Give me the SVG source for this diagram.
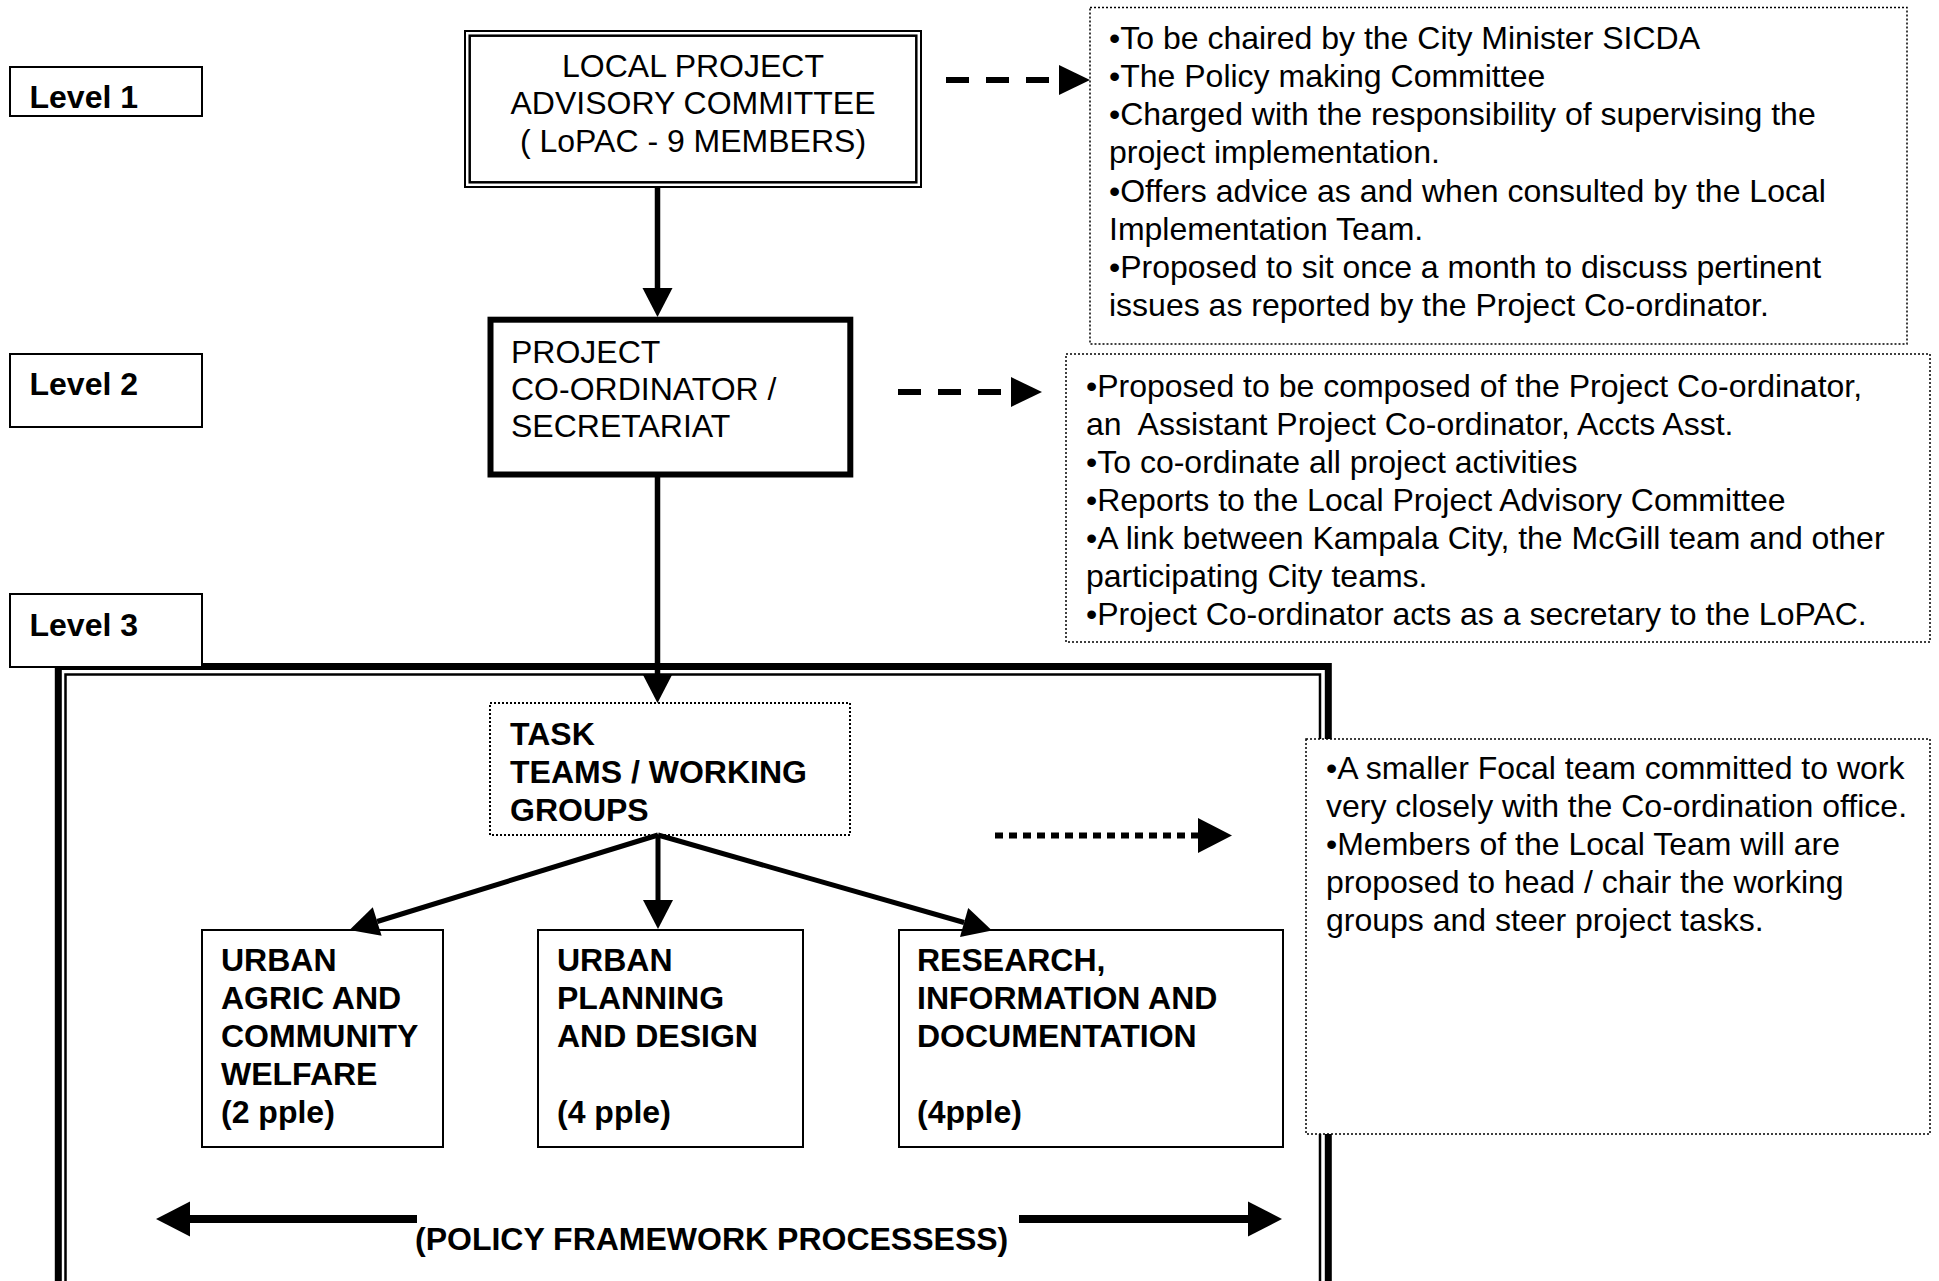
<svg xmlns="http://www.w3.org/2000/svg" width="1939" height="1281" viewBox="0 0 1939 1281">
<style>
text{font-family:"Liberation Sans",Arial,sans-serif;font-size:32px;fill:#000;white-space:pre}
.b{font-weight:bold}
.box{fill:#fff;stroke:#000;stroke-width:2}
.dot{fill:#fff;stroke:#000;stroke-width:1.5;stroke-dasharray:2 2}
.conn{stroke:#000;fill:none}
</style>
<defs>
<marker id="ahS" markerUnits="userSpaceOnUse" markerWidth="40" markerHeight="40" refX="0" refY="15" orient="auto" overflow="visible"><path d="M0,0 L29,15 L0,30 z" fill="#000"/></marker>
<marker id="ahD" markerUnits="userSpaceOnUse" markerWidth="40" markerHeight="40" refX="0" refY="15" orient="auto" overflow="visible"><path d="M0,0 L31,15 L0,30 z" fill="#000"/></marker>
<marker id="ahL" markerUnits="userSpaceOnUse" markerWidth="40" markerHeight="40" refX="0" refY="17.5" orient="auto" overflow="visible"><path d="M0,0 L34,17.5 L0,35 z" fill="#000"/></marker>
</defs>
<rect width="1939" height="1281" fill="#fff"/>

<g id="level3-frame">
<rect x="58.3" y="666.5" width="1270" height="700" fill="none" stroke="#000" stroke-width="7"/>
<rect x="65.5" y="674.5" width="1254.5" height="700" fill="none" stroke="#000" stroke-width="2.5"/>
</g>

<g id="level1"><rect class="box" x="10" y="67" width="192" height="49"/><text class="b" x="29.5" y="108">Level 1</text></g>
<g id="level2"><rect class="box" x="10" y="354" width="192" height="73"/><text class="b" x="29.5" y="395">Level 2</text></g>
<g id="level3"><rect class="box" x="10" y="594" width="192" height="73"/><text class="b" x="29.5" y="636">Level 3</text></g>

<g id="lopac">
<rect x="465" y="31" width="456" height="156" fill="#fff" stroke="#000" stroke-width="2"/>
<rect x="469.7" y="35.7" width="446.6" height="146.6" fill="none" stroke="#000" stroke-width="2.5"/>
<text x="693" y="76.5" text-anchor="middle">LOCAL PROJECT</text>
<text x="693" y="114" text-anchor="middle">ADVISORY COMMITTEE</text>
<text x="693" y="151.5" text-anchor="middle">( LoPAC - 9 MEMBERS)</text>
</g>

<g id="coordinator">
<rect x="490.5" y="319.7" width="359.8" height="154.8" fill="#fff" stroke="#000" stroke-width="6"/>
<text x="511" y="362.5">PROJECT</text>
<text x="511" y="400">CO-ORDINATOR /</text>
<text x="511" y="437">SECRETARIAT</text>
</g>

<g id="task-teams">
<rect x="490" y="703" width="360" height="132" fill="#fff" stroke="#000" stroke-width="2" stroke-dasharray="2 2"/>
<text class="b" x="510" y="745">TASK</text>
<text class="b" x="510" y="783">TEAMS / WORKING</text>
<text class="b" x="510" y="821">GROUPS</text>
</g>

<g id="urban-agric">
<rect class="box" x="202" y="930" width="241" height="217"/>
<text class="b" x="221" y="971">URBAN</text>
<text class="b" x="221" y="1009">AGRIC AND</text>
<text class="b" x="221" y="1047">COMMUNITY</text>
<text class="b" x="221" y="1085">WELFARE</text>
<text class="b" x="221" y="1123">(2 pple)</text>
</g>

<g id="urban-planning">
<rect class="box" x="538" y="930" width="265" height="217"/>
<text class="b" x="557" y="971">URBAN</text>
<text class="b" x="557" y="1009">PLANNING</text>
<text class="b" x="557" y="1047">AND DESIGN</text>
<text class="b" x="557" y="1123">(4 pple)</text>
</g>

<g id="research">
<rect class="box" x="899" y="930" width="384" height="217"/>
<text class="b" x="917" y="971">RESEARCH,</text>
<text class="b" x="917" y="1009">INFORMATION AND</text>
<text class="b" x="917" y="1047">DOCUMENTATION</text>
<text class="b" x="917" y="1123">(4pple)</text>
</g>

<g id="notes-level1">
<rect class="dot" x="1090" y="7.5" width="817" height="336.5"/>
<text x="1109" y="49">•To be chaired by the City Minister SICDA</text>
<text x="1109" y="87">•The Policy making Committee</text>
<text x="1109" y="125">•Charged with the responsibility of supervising the</text>
<text x="1109" y="163">project implementation.</text>
<text x="1109" y="202">•Offers advice as and when consulted by the Local</text>
<text x="1109" y="240">Implementation Team.</text>
<text x="1109" y="278">•Proposed to sit once a month to discuss pertinent</text>
<text x="1109" y="316">issues as reported by the Project Co-ordinator.</text>
</g>

<g id="notes-level2">
<rect class="dot" x="1066" y="354" width="864" height="288"/>
<text x="1086" y="397">•Proposed to be composed of the Project Co-ordinator,</text>
<text x="1086" y="435">an  Assistant Project Co-ordinator, Accts Asst.</text>
<text x="1086" y="473">•To co-ordinate all project activities</text>
<text x="1086" y="511">•Reports to the Local Project Advisory Committee</text>
<text x="1086" y="549">•A link between Kampala City, the McGill team and other</text>
<text x="1086" y="587">participating City teams.</text>
<text x="1086" y="625">•Project Co-ordinator acts as a secretary to the LoPAC.</text>
</g>

<g id="notes-level3">
<rect class="dot" x="1306" y="739" width="624" height="395"/>
<text x="1326" y="779">•A smaller Focal team committed to work</text>
<text x="1326" y="817">very closely with the Co-ordination office.</text>
<text x="1326" y="855">•Members of the Local Team will are</text>
<text x="1326" y="893">proposed to head / chair the working</text>
<text x="1326" y="931">groups and steer project tasks.</text>
</g>

<g id="policy-label">
<text class="b" x="415" y="1250">(POLICY FRAMEWORK PROCESSESS)</text>
</g>

<g id="connectors">
<line class="conn" x1="657.5" y1="188" x2="657.5" y2="288" stroke-width="5.5" marker-end="url(#ahS)"/>
<line class="conn" x1="657.5" y1="477" x2="657.5" y2="674" stroke-width="5.5" marker-end="url(#ahS)"/>
<line class="conn" x1="658" y1="835" x2="377.2" y2="921.5" stroke-width="5" marker-end="url(#ahS)"/>
<line class="conn" x1="658" y1="835" x2="658" y2="900" stroke-width="5" marker-end="url(#ahS)"/>
<line class="conn" x1="658" y1="835" x2="964.1" y2="922.5" stroke-width="5" marker-end="url(#ahS)"/>
<line class="conn" x1="946" y1="80" x2="1059" y2="80" stroke-width="6" stroke-dasharray="23 17" marker-end="url(#ahD)"/>
<line class="conn" x1="898" y1="392" x2="1011" y2="392" stroke-width="6" stroke-dasharray="23 17" marker-end="url(#ahD)"/>
<line class="conn" x1="995" y1="835.5" x2="1198" y2="835.5" stroke-width="6" stroke-dasharray="8 6" marker-end="url(#ahL)"/>
<line class="conn" x1="417" y1="1219" x2="190" y2="1219" stroke-width="8" marker-end="url(#ahL)"/>
<line class="conn" x1="1019" y1="1219" x2="1248" y2="1219" stroke-width="8" marker-end="url(#ahL)"/>
</g>
</svg>
